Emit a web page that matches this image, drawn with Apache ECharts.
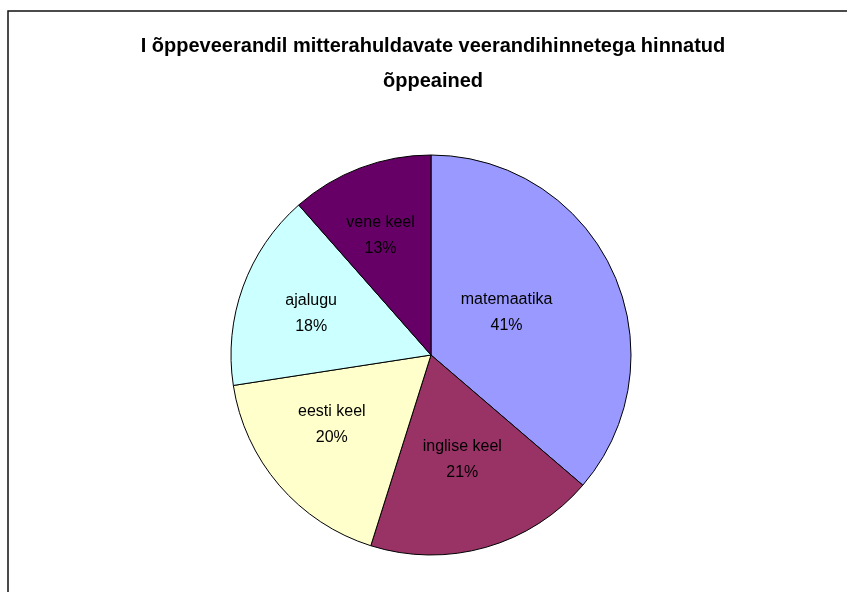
<!DOCTYPE html>
<html>
<head>
<meta charset="utf-8">
<script src="https://cdn.jsdelivr.net/npm/echarts@6/dist/echarts.min.js"></script>
<style>
  html, body { margin: 0; padding: 0; background: #fff; }
  #main { width: 847px; height: 592px; }
</style>
</head>
<body>
<div id="main"></div>
<script>
var titleText = 'I õppeveerandil mitterahuldavate veerandihinnetega hinnatud\nõppeained';
var subjects = ['matemaatika', 'inglise keel', 'eesti keel', 'ajalugu', 'vene keel'];
var values = [41, 21, 20, 18, 13];
var colors = ['#9999FF', '#993366', '#FFFFCC', '#CCFFFF', '#660066'];
// nudges so the labels sit where Excel put them
var labelShift = [[-18, 1], [3, 6], [-21, 3], [-23, -6], [-14, -23]];

var font = '"Liberation Sans", Arial, sans-serif';

var chart = echarts.init(document.getElementById('main'));

var pieData = [];
for (var i = 0; i < subjects.length; i++) {
  pieData.push({
    name: subjects[i],
    value: values[i],
    itemStyle: { color: colors[i] }
  });
}

var option = {
  backgroundColor: '#ffffff',
  animation: false,
  title: {
    text: titleText,
    left: 428,
    top: 24,
    textAlign: 'center',
    textStyle: {
      fontFamily: font,
      fontWeight: 'bold',
      fontSize: 20,
      lineHeight: 35,
      color: '#000'
    }
  },
  graphic: [{
    type: 'rect',
    shape: { x: 8, y: 11, width: 900, height: 700 },
    style: { fill: 'none', stroke: '#111', lineWidth: 1.5 },
    silent: true,
    z: -1
  }],
  series: [{
    type: 'pie',
    center: [431, 355],
    radius: 200,
    startAngle: 90,
    clockwise: true,
    avoidLabelOverlap: false,
    emphasis: { disabled: true },
    itemStyle: { borderColor: '#000', borderWidth: 1 },
    label: {
      show: true,
      position: 'inside',
      color: '#000',
      fontFamily: font,
      fontSize: 16,
      lineHeight: 26,
      align: 'center',
      formatter: function (p) {
        return p.name + '\n' + p.value + '%';
      }
    },
    labelLine: { show: false },
    labelLayout: function (params) {
      var s = labelShift[params.dataIndex];
      return { dx: s[0], dy: s[1] };
    },
    data: pieData
  }]
};

chart.setOption(option);
</script>
</body>
</html>
